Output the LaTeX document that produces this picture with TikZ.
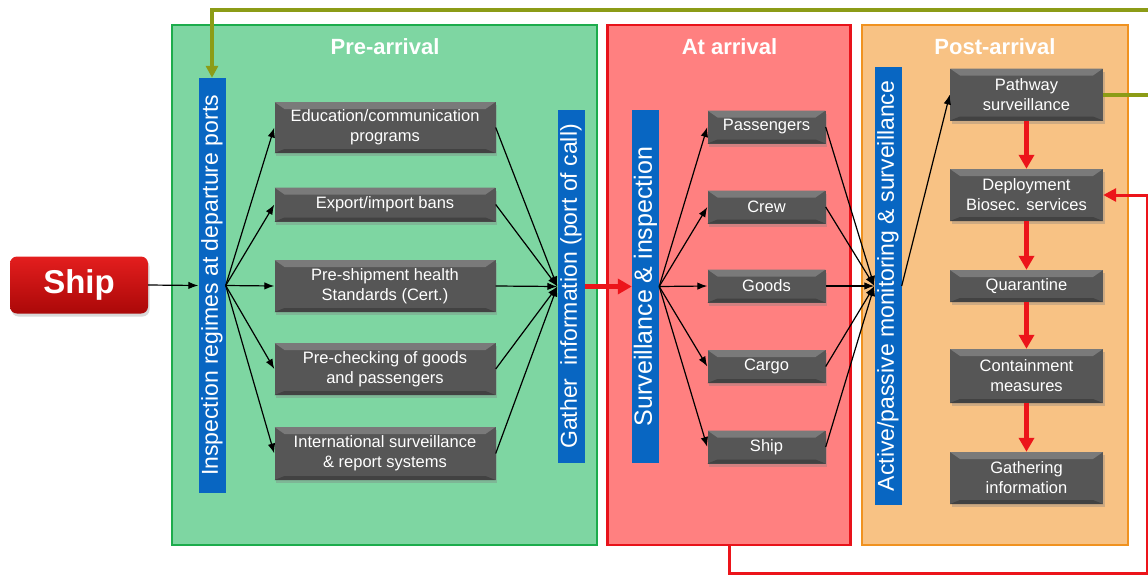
\documentclass[tikz,border=0pt]{standalone}
\usepackage{fontspec}
\setmainfont{Liberation Sans}
\usetikzlibrary{arrows.meta,shadows}

\definecolor{pregreen}{RGB}{126,214,162}
\definecolor{pregreenline}{RGB}{28,172,76}
\definecolor{arrred}{RGB}{255,128,128}
\definecolor{arrredline}{RGB}{232,18,26}
\definecolor{postorange}{RGB}{248,194,132}
\definecolor{postorangeline}{RGB}{240,146,32}
\definecolor{barblue}{RGB}{8,102,194}
\definecolor{boxgray}{RGB}{86,86,86}
\definecolor{boxlight}{RGB}{122,122,122}
\definecolor{boxdark}{RGB}{66,66,66}
\definecolor{loopolive}{RGB}{140,156,22}
\definecolor{flowred}{RGB}{236,20,26}
\definecolor{shiptop}{RGB}{228,30,30}
\definecolor{shipbot}{RGB}{170,8,8}

\begin{document}
\begin{tikzpicture}[x=1pt,y=-1pt,
  panel/.style={draw, line width=2.5pt, inner sep=0pt},
  paneltitle/.style={text=white, font=\fontsize{22}{24}\bfseries\selectfont},
  bar/.style={fill=barblue, inner sep=0pt, minimum width=27, text=white},
  gbox/.style={fill=boxgray, text=white, inner sep=2pt, align=center,
    font=\fontsize{16.5}{20}\selectfont,
    drop shadow={shadow xshift=1.5pt, shadow yshift=-3pt, opacity=0.35},
    path picture={
      \fill[boxlight] (path picture bounding box.north west) -- (path picture bounding box.north east)
        -- ([xshift=-10pt,yshift=-7pt]path picture bounding box.north east)
        -- ([xshift=10pt,yshift=-7pt]path picture bounding box.north west) -- cycle;
      \fill[boxdark] (path picture bounding box.south west) -- (path picture bounding box.south east)
        -- ([xshift=-10pt,yshift=4pt]path picture bounding box.south east)
        -- ([xshift=10pt,yshift=4pt]path picture bounding box.south west) -- cycle;
    }},
  conn/.style={-{Latex[length=10pt,width=7.5pt]}, line width=1.2pt, black},
  flow/.style={-{Triangle[length=14pt,width=15pt]}, line width=4.5pt, flowred},
  oliveloop/.style={line width=4pt, loopolive, -{Triangle[length=12pt,width=12pt]}},
  redloop/.style={line width=3pt, flowred, -{Triangle[length=13pt,width=13pt]}}
]
\useasboundingbox (0,0) rectangle (1148,576);

% stage panels
\node[panel, fill=pregreen, draw=pregreenline, minimum width=425, minimum height=520] (prepanel) at (384.5,285) {};
\node[panel, fill=arrred, draw=arrredline, minimum width=243, minimum height=520] (arrpanel) at (729,285) {};
\node[panel, fill=postorange, draw=postorangeline, minimum width=266, minimum height=520] (postpanel) at (995,285) {};

\node[paneltitle] (pretitle) at (385,47) {Pre-arrival};
\node[paneltitle] (arrtitle) at (729.5,47) {At arrival};
\node[paneltitle] (posttitle) at (995,47) {Post-arrival};

% ship
\node[top color=shiptop, bottom color=shipbot, rounded corners=7pt, minimum width=138, minimum height=57,
  text=white, font=\fontsize{33}{36}\bfseries\selectfont,
  drop shadow={shadow xshift=1.5pt, shadow yshift=-3pt, opacity=0.3}] (ship) at (79,285) {Ship};

% vertical blue bars
\node[bar, minimum height=415] (insp) at (212,285.5) {\rotatebox{90}{\fontsize{23}{25}\selectfont Inspection regimes at departure ports}};
\node[bar, minimum height=353] (gath) at (571,286.5) {\rotatebox{90}{\fontsize{23}{25}\selectfont Gather\ \ information (port of call)}};
\node[bar, minimum height=353] (surv) at (645.5,286.5) {\rotatebox{90}{\fontsize{25}{27}\selectfont Surveillance \& inspection}};
\node[bar, minimum height=438] (act) at (888,286) {\rotatebox{90}{\fontsize{23}{25}\selectfont Active/passive monitoring \& surveillance}};

% pre-arrival measures
\node[gbox, minimum width=221, minimum height=51] (edu) at (385,127.5) {Education/communication\\programs};
\node[gbox, minimum width=221, minimum height=34] (ban) at (385,204.5) {Export/import bans};
\node[gbox, minimum width=221, minimum height=52] (cert) at (385,286) {Pre-shipment health\\Standards (Cert.)};
\node[gbox, minimum width=221, minimum height=52] (prechk) at (385,369) {Pre-checking of goods\\and passengers};
\node[gbox, minimum width=221, minimum height=53] (intl) at (385,453.5) {International surveillance\\\& report systems};

% arrival checks
\node[gbox, minimum width=118, minimum height=33] (pass) at (766.5,127) {Passengers};
\node[gbox, minimum width=118, minimum height=33] (crew) at (766.5,207) {Crew};
\node[gbox, minimum width=118, minimum height=33] (goods) at (766.5,286) {Goods};
\node[gbox, minimum width=118, minimum height=33] (cargo) at (766.5,366.5) {Cargo};
\node[gbox, minimum width=118, minimum height=33] (vessel) at (766.5,447) {Ship};

% post-arrival actions
\node[gbox, minimum width=153, minimum height=52] (path) at (1026.5,94.5) {Pathway\\surveillance};
\node[gbox, minimum width=153, minimum height=52] (dep) at (1026.5,195) {Deployment\\Biosec. services};
\node[gbox, minimum width=153, minimum height=32] (quar) at (1026.5,286) {Quarantine};
\node[gbox, minimum width=153, minimum height=54] (cont) at (1026.5,376) {Containment\\measures};
\node[gbox, minimum width=153, minimum height=52] (gather) at (1026.5,478) {Gathering\\information};

% connectors
\draw[conn] (ship.east) -- (insp.west);
\foreach \b in {edu,ban,cert,prechk,intl}{
  \draw[conn] (insp.east) -- (\b.west);
  \draw[conn] (\b.east) -- (gath.west);
}
\draw[flow] (gath.east) -- (surv.west);
\foreach \b in {pass,crew,goods,cargo,vessel}{
  \draw[conn] (surv.east) -- (\b.west);
  \draw[conn] (\b.east) -- (act.west);
}
\draw[conn] (act.east) -- (path.west);
\draw[flow] (path.south) -- (dep.north);
\draw[flow] (dep.south) -- (quar.north);
\draw[flow] (quar.south) -- (cont.north);
\draw[flow] (cont.south) -- (gather.north);

% feedback loops
\coordinate (olivecorner) at (1153,10);
\coordinate (redcorner) at (1147.5,573);
\draw[oliveloop] (path.east) -| (olivecorner) -| (insp.north);
\draw[redloop] (arrpanel.south) |- (redcorner) |- (dep.east);
\end{tikzpicture}
\end{document}
